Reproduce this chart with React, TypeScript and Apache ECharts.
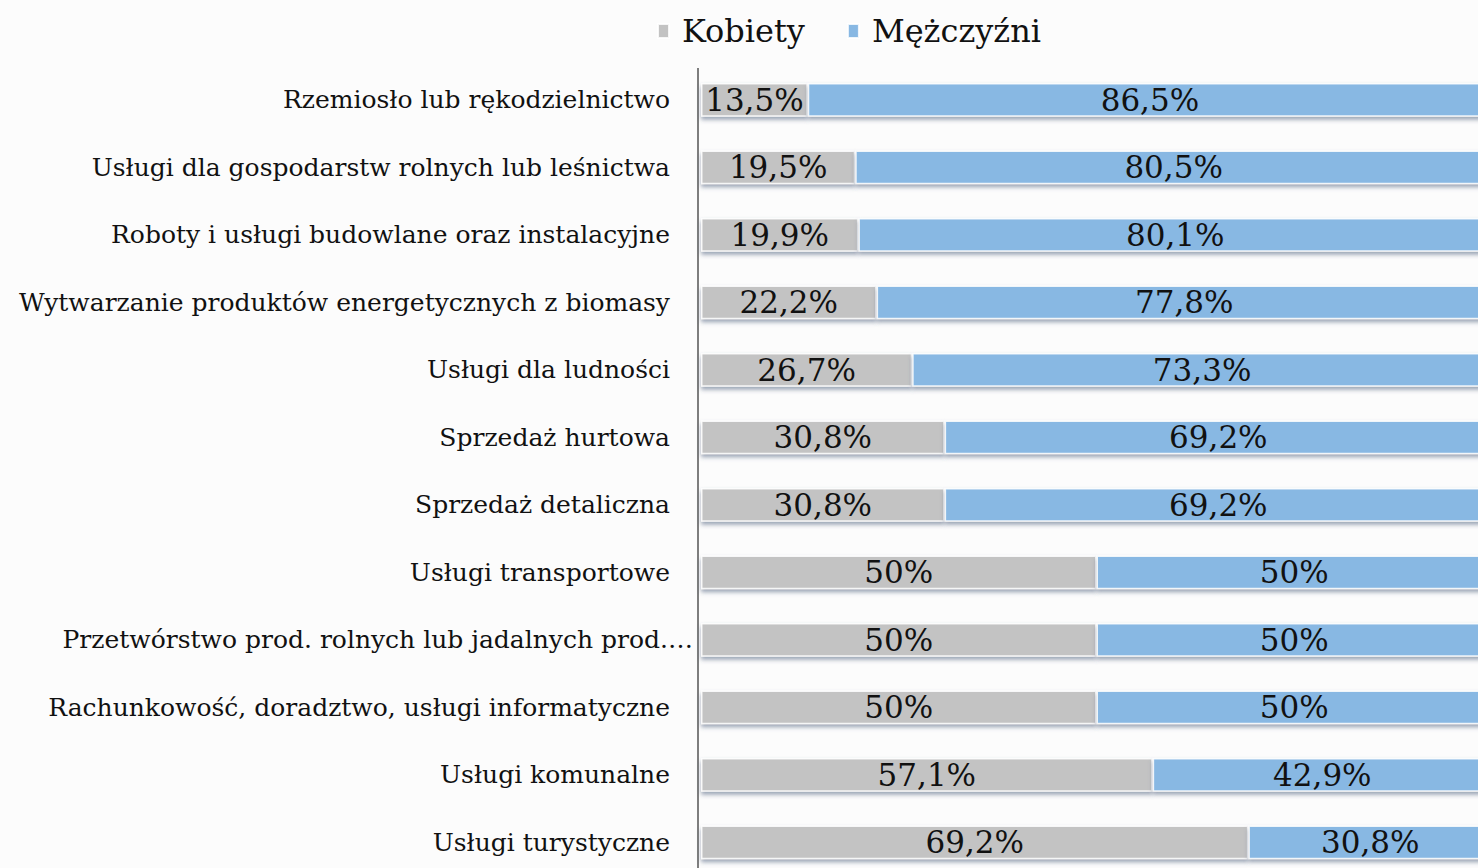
import React, { useEffect, useRef } from "react";
import * as echarts from "echarts";

const categories = [
  "Rzemiosło lub rękodzielnictwo",
  "Usługi dla gospodarstw rolnych lub leśnictwa",
  "Roboty i usługi budowlane oraz instalacyjne",
  "Wytwarzanie produktów energetycznych z biomasy",
  "Usługi dla ludności",
  "Sprzedaż hurtowa",
  "Sprzedaż detaliczna",
  "Usługi transportowe",
  "Przetwórstwo prod. rolnych lub jadalnych prod.…",
  "Rachunkowość, doradztwo, usługi informatyczne",
  "Usługi komunalne",
  "Usługi turystyczne",
];
const kobiety = [13.5, 19.5, 19.9, 22.2, 26.7, 30.8, 30.8, 50, 50, 50, 57.1, 69.2];
const mezczyzni = [86.5, 80.5, 80.1, 77.8, 73.3, 69.2, 69.2, 50, 50, 50, 42.9, 30.8];
const seriesNames = ["Kobiety", "Mężczyźni"];

const FONT = "DejaVu Serif";

const fmt = (v: number) => String(v).replace(".", ",") + "%";

export default function App() {
  const ref = useRef<HTMLDivElement>(null);
  useEffect(() => {
    if (!ref.current) return;
    const chart = echarts.init(ref.current, undefined, { renderer: "svg" });
    const barStyle = (color: string) => ({
      color,
      borderColor: "rgba(255,255,255,0.85)",
      borderWidth: 1.5,
      shadowColor: "rgba(70,90,120,0.55)",
      shadowBlur: 4,
      shadowOffsetY: 3,
    });
    const label = {
      show: true,
      position: "inside" as const,
      fontFamily: FONT,
      fontSize: 31,
      color: "#111",
      formatter: (p: any) => fmt(p.value),
    };
    chart.setOption({
      animation: false,
      backgroundColor: "#fcfcfc",
      textStyle: { fontFamily: FONT },
      legend: {
        top: 10,
        left: 652,
        icon: "rect",
        itemWidth: 11,
        itemHeight: 14,
        itemGap: 42,
        textStyle: {
          fontFamily: FONT,
          fontSize: 32,
          color: "#111",
          padding: [0, 0, 0, 8],
        },
        data: seriesNames,
      },
      grid: {
        left: 701,
        width: 791,
        top: 66,
        height: 810,
        containLabel: false,
        outerBoundsMode: "none",
      },
      xAxis: { type: "value", min: 0, max: 100, show: false },
      yAxis: {
        type: "category",
        data: categories,
        inverse: true,
        axisTick: { show: false },
        axisLine: { show: false },
        axisLabel: {
          margin: 8,
          fontFamily: FONT,
          fontSize: 25,
          color: "#111",
          formatter: (v: string, i: number) =>
            i === 8 ? "{b|" + v + "}" : "{a|" + v + "}",
          rich: {
            a: { fontFamily: FONT, fontSize: 25, color: "#111", padding: [0, 23, 0, 0] },
            b: { fontFamily: FONT, fontSize: 25, color: "#111" },
          },
        },
      },
      graphic: [
        {
          type: "line",
          shape: { x1: 698, y1: 68, x2: 698, y2: 868 },
          style: { stroke: "#555", lineWidth: 1.5 },
          silent: true,
        },
      ],
      series: [
        {
          name: seriesNames[0],
          type: "bar",
          stack: "total",
          barWidth: "50%",
          data: kobiety,
          itemStyle: barStyle("#c3c3c3"),
          label,
        },
        {
          name: seriesNames[1],
          type: "bar",
          stack: "total",
          barWidth: "50%",
          data: mezczyzni,
          itemStyle: barStyle("#88b8e3"),
          label,
        },
      ],
    });
    return () => chart.dispose();
  }, []);
  return (
    <div
      style={{
        position: "absolute",
        left: 0,
        top: 0,
        width: 1478,
        height: 868,
        overflow: "hidden",
      }}
    >
      <div ref={ref} style={{ width: 1500, height: 868 }} />
    </div>
  );
}
